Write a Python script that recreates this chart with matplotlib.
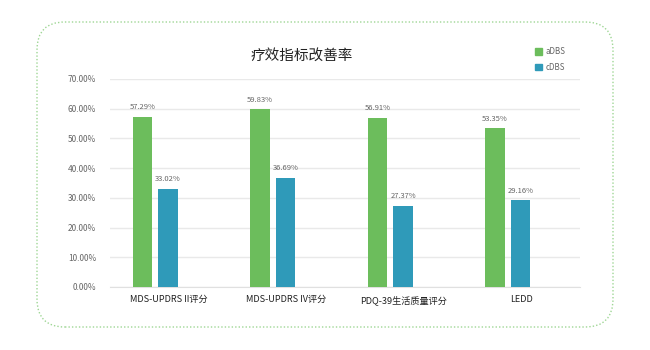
import numpy as np
import matplotlib.pyplot as plt
from matplotlib.patches import FancyBboxPatch, Patch
from matplotlib.ticker import MultipleLocator, FuncFormatter

plt.rcParams['font.family'] = ['Noto Sans CJK SC', 'DejaVu Sans']

categories = ["MDS-UPDRS II评分", "MDS-UPDRS IV评分", "PDQ-39生活质量评分", "LEDD"]
adbs = [0.5729, 0.5983, 0.5691, 0.5335]
cdbs = [0.3302, 0.3669, 0.2737, 0.2916]
series_names = ["aDBS", "cDBS"]

green = "#6cbd5c"
blue = "#2f9ab9"

fig = plt.figure(figsize=(6.5, 3.5), dpi=100)
ax = fig.add_axes([110 / 650, 1 - 287 / 350, 470 / 650, 208 / 350])

# dotted rounded frame around the whole chart
frame = FancyBboxPatch((0.37, 0.23), 5.76, 3.05,
                       boxstyle="round,pad=0,rounding_size=0.28",
                       transform=fig.dpi_scale_trans, fill=False,
                       edgecolor="#9ed694", linestyle=(0, (1, 1.5)), linewidth=1.0)
fig.patches.append(frame)

x = np.arange(len(categories))
w = 0.166
b1 = ax.bar(x - 0.222, adbs, w, color=green, zorder=3)
b2 = ax.bar(x - 0.005, cdbs, w, color=blue, zorder=3)

for bars, vals in [(b1, adbs), (b2, cdbs)]:
    for r, v in zip(bars, vals):
        ax.annotate("{:.2f}%".format(v * 100), (r.get_x() + r.get_width() / 2, v),
                    xytext=(0, 4), textcoords="offset points", ha="center", va="bottom",
                    fontsize=5.5, color="#666666")

ax.set_xlim(-0.5, 3.5)
ax.set_ylim(0, 0.7)
ax.yaxis.set_major_locator(MultipleLocator(0.1))
ax.yaxis.set_major_formatter(FuncFormatter(lambda v, p: "{:.2f}%".format(v * 100)))
ax.grid(axis="y", color="#e9e9e9", linewidth=1.0, zorder=0)
for s in ["top", "right", "left"]:
    ax.spines[s].set_visible(False)
ax.spines["bottom"].set_color("#e0e0e0")
ax.tick_params(axis="y", length=0, labelsize=6, labelcolor="#666666", pad=10)
ax.tick_params(axis="x", length=0, labelsize=6.6, labelcolor="#222222", pad=6)
ax.set_xticks(x)
ax.set_xticklabels(categories, fontweight="medium")

fig.text(302 / 650, 1 - 56 / 350, "疗效指标改善率", ha="center", va="center",
         fontsize=10.5, fontweight="medium", color="#222222")

handles = [Patch(color=green, label=series_names[0]), Patch(color=blue, label=series_names[1])]
fig.legend(handles=handles, loc="upper left", bbox_to_anchor=(528 / 650, 1 - 40 / 350),
           frameon=False, fontsize=5.8, labelcolor="#666666", handlelength=0.8,
           handleheight=0.8, handletextpad=0.5, labelspacing=0.8)

plt.savefig("out.png", dpi=100)
